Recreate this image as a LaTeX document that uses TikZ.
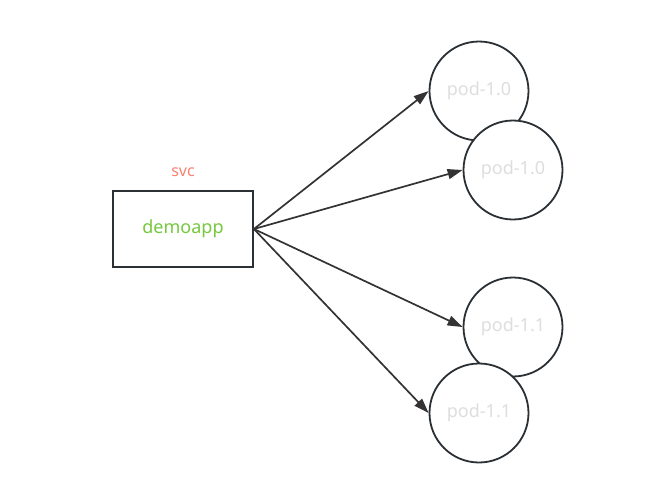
\documentclass[tikz,border=0pt]{standalone}
\usepackage{fontspec}
\setmainfont{Noto Sans}
\usetikzlibrary{arrows.meta}
\definecolor{linegray}{RGB}{43,48,53}
\definecolor{arrowgray}{RGB}{51,51,51}
\definecolor{podtext}{RGB}{222,222,222}
\definecolor{svcred}{RGB}{250,128,114}
\definecolor{appgreen}{RGB}{118,200,62}
\begin{document}
\begin{tikzpicture}[x=1pt,y=-1pt,every node/.style={align=center,font=\fontsize{18}{21}\selectfont},
	svcbox/.style={draw=linegray,line width=1.8pt,fill=white,minimum width=140pt,minimum height=76pt,inner sep=0pt,text=appgreen},
	pod/.style={circle,draw=linegray,line width=1.8pt,fill=white,minimum size=99pt,inner sep=0pt,text=podtext},
	link/.style={draw=arrowgray,line width=1.7pt,-{Triangle[length=15pt,width=10pt]}}]
		\useasboundingbox (0,0) rectangle (654,483);
		\node[svcbox] (demoapp) at (183,229) {demoapp};
		\node[text=svcred,font=\fontsize{16}{19}\selectfont] (svc) at (183,172) {svc};
		% pods, the later one drawn over the earlier one
		\node[pod] (pod10a) at (479,91) {pod-1.0};
		\node[pod] (pod10b) at (513,170) {pod-1.0};
		\node[pod] (pod11a) at (513,327) {pod-1.1};
		\node[pod] (pod11b) at (479,413) {pod-1.1};
		% links from the service
		\draw[link] (demoapp.east) -- (pod10a.west);
		\draw[link] (demoapp.east) -- (pod10b.west);
		\draw[link] (demoapp.east) -- (pod11a.west);
		\draw[link] (demoapp.east) -- (pod11b.west);
	\end{tikzpicture}
\end{document}
